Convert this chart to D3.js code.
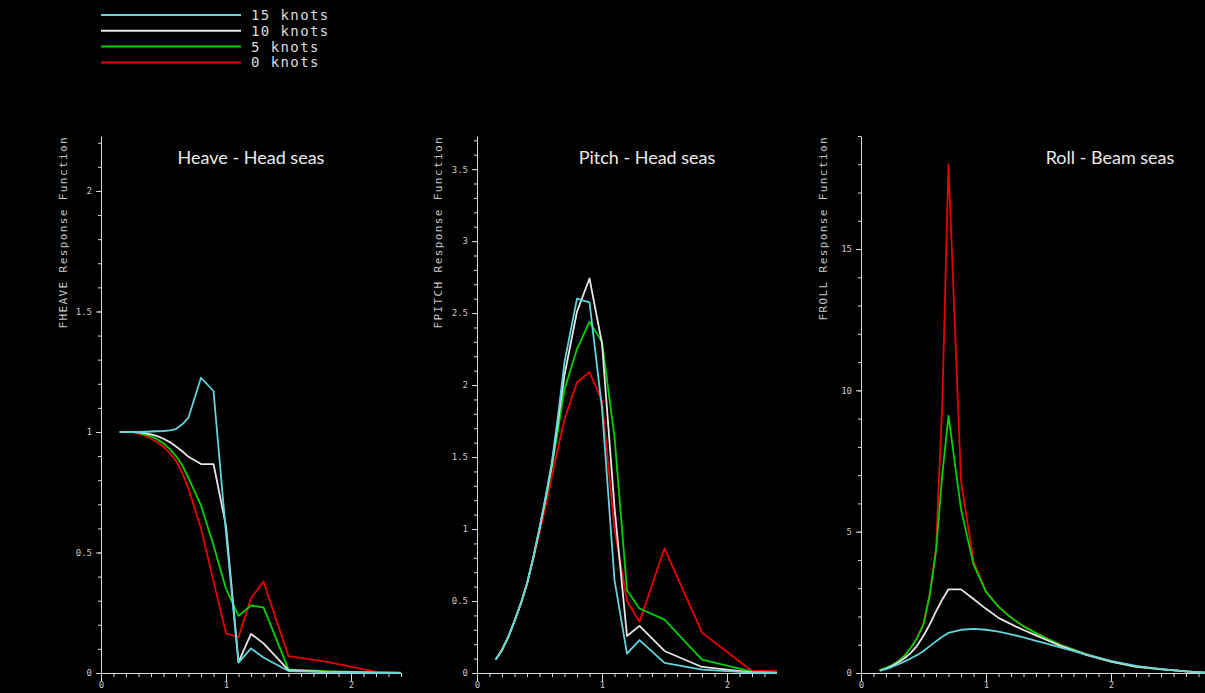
<!DOCTYPE html>
<html lang="en">
<head>
<meta charset="UTF-8">
<title>Response functions</title>
<script src="https://d3js.org/d3.v7.min.js"></script>
<style>
  html, body { margin: 0; padding: 0; background: #000; overflow: hidden; }
  svg { display: block; }
  .tick text { font-family: "DejaVu Sans Mono", monospace; font-size: 9px; fill: #c8c8c8; }
  .axis path, .axis line { stroke: #d8d8d8; }
</style>
</head>
<body>
<div id="chart"></div>
<script>
// series names (legend order, top to bottom)
const speeds = ["15 knots", "10 knots", "5 knots", "0 knots"];
const colors = ["#62d4da", "#e6e6e6", "#00d000", "#e80000"];

// wave frequency points
const freqHP = [0.15,0.2,0.25,0.3,0.35,0.4,0.45,0.5,0.55,0.6,0.65,0.7,0.8,0.9,1.0,1.1,1.2,1.3,1.5,1.8,2.2,2.4];
const freqRoll = [0.15,0.2,0.25,0.3,0.35,0.4,0.45,0.5,0.55,0.6,0.65,0.7,0.8,0.9,1.0,1.1,1.2,1.3,1.4,1.5,1.6,1.8,2.0,2.2,2.4,2.6,2.8];

// Heave - head seas
const heave15 = [1.0,1.0,1.0,1.0,1.001,1.002,1.003,1.004,1.007,1.012,1.032,1.06,1.225,1.17,0.58,0.043,0.102,0.064,0.008,0.004,0.0,0.0];
const heave10 = [1.0,1.0,1.0,0.998,0.995,0.99,0.983,0.972,0.958,0.94,0.92,0.897,0.867,0.867,0.61,0.045,0.162,0.123,0.012,0.005,0.001,0.0];
const heave5  = [1.0,1.0,0.999,0.996,0.99,0.982,0.97,0.952,0.93,0.9,0.862,0.81,0.695,0.53,0.35,0.237,0.28,0.272,0.015,0.008,0.002,0.0];
const heave0  = [1.0,1.0,0.998,0.993,0.985,0.972,0.957,0.938,0.913,0.88,0.83,0.765,0.60,0.38,0.165,0.148,0.31,0.38,0.07,0.047,0.005,0.002];

// Pitch - head seas
const pitch15 = [0.094,0.16,0.25,0.36,0.48,0.62,0.8,1.01,1.23,1.47,1.8,2.16,2.6,2.575,1.84,0.645,0.135,0.228,0.07,0.024,0.002,0.0];
const pitch10 = [0.094,0.16,0.25,0.36,0.48,0.62,0.8,1.0,1.22,1.45,1.76,2.07,2.51,2.74,2.29,1.15,0.257,0.327,0.153,0.042,0.005,0.0];
const pitch5  = [0.094,0.16,0.25,0.36,0.48,0.62,0.8,1.0,1.21,1.44,1.7,1.97,2.25,2.44,2.3,1.64,0.575,0.448,0.371,0.093,0.01,0.005];
const pitch0  = [0.094,0.16,0.25,0.36,0.48,0.62,0.79,0.97,1.16,1.37,1.57,1.76,2.02,2.09,1.89,1.0,0.5,0.355,0.866,0.28,0.014,0.014];

// Roll - beam seas
const roll15 = [0.08,0.14,0.22,0.31,0.41,0.52,0.64,0.78,0.95,1.12,1.28,1.42,1.53,1.56,1.53,1.46,1.37,1.26,1.14,1.02,0.9,0.66,0.43,0.25,0.14,0.06,0.0];
const roll10 = [0.08,0.15,0.25,0.38,0.53,0.72,0.97,1.32,1.72,2.18,2.6,2.96,2.96,2.62,2.27,1.95,1.73,1.52,1.33,1.14,0.95,0.64,0.4,0.23,0.14,0.06,0.0];
const roll5  = [0.1,0.18,0.28,0.42,0.62,0.9,1.25,1.72,2.75,4.3,7.0,9.1,5.8,3.84,2.87,2.34,1.96,1.65,1.41,1.19,0.99,0.67,0.4,0.22,0.13,0.06,0.0];
const roll0  = [0.1,0.18,0.28,0.42,0.62,0.9,1.25,1.75,2.8,4.4,9.5,18.0,6.8,3.95,2.9,2.36,1.97,1.66,1.42,1.2,1.0,0.68,0.4,0.22,0.13,0.06,0.0];

const panels = [
  { title: "Heave - Head seas", ylabel: "FHEAVE Response Function", freq: freqHP,
    series: [heave15, heave10, heave5, heave0],
    left: 101, xMax: 2.4, yMax: 2.228, yMajor: [0, 0.5, 1, 1.5, 2], yMinor: 0.1,
    titleX: 251, ylabelX: 63 },
  { title: "Pitch - Head seas", ylabel: "FPITCH Response Function", freq: freqHP,
    series: [pitch15, pitch10, pitch5, pitch0],
    left: 477, xMax: 2.37, yMax: 3.73, yMajor: [0, 0.5, 1, 1.5, 2, 2.5, 3, 3.5], yMinor: 0.1,
    titleX: 647, ylabelX: 438 },
  { title: "Roll - Beam seas", ylabel: "FROLL Response Function", freq: freqRoll,
    series: [roll15, roll10, roll5, roll0],
    left: 861, xMax: 2.8, yMax: 19.0, yMajor: [0, 5, 10, 15], yMinor: 1,
    titleX: 1110, ylabelX: 823 }
];

const W = 1205, H = 693;
const plotTop = 136, plotBottom = 673, pxPerUnit = 125;

const svg = d3.select("#chart").append("svg")
  .attr("width", W)
  .attr("height", H);

svg.append("rect").attr("width", W).attr("height", H).attr("fill", "#000");

function steps(max, step) {
  const out = [];
  for (let i = 0; i * step <= max + 1e-9; i++) out.push(+(i * step).toFixed(4));
  return out;
}

panels.forEach(p => {
  const x = d3.scaleLinear().domain([0, p.xMax]).range([p.left, p.left + p.xMax * pxPerUnit]);
  const y = d3.scaleLinear().domain([0, p.yMax]).range([plotBottom, plotTop]);

  // minor ticks
  svg.append("g").attr("class", "axis")
    .attr("transform", `translate(${p.left},0)`)
    .call(d3.axisLeft(y).tickValues(steps(p.yMax, p.yMinor)).tickSize(3).tickFormat("").tickSizeOuter(0))
    .select(".domain").remove();
  svg.append("g").attr("class", "axis")
    .attr("transform", `translate(0,${plotBottom})`)
    .call(d3.axisBottom(x).tickValues(steps(p.xMax, 0.1)).tickSize(4).tickFormat("").tickSizeOuter(0))
    .select(".domain").remove();

  // major ticks + axis lines
  svg.append("g").attr("class", "axis")
    .attr("transform", `translate(${p.left},0)`)
    .call(d3.axisLeft(y).tickValues(p.yMajor).tickSize(5).tickSizeOuter(0).tickPadding(4).tickFormat(d3.format("")));
  svg.append("g").attr("class", "axis")
    .attr("transform", `translate(0,${plotBottom})`)
    .call(d3.axisBottom(x).tickValues([0, 1, 2]).tickSize(8).tickSizeOuter(0).tickPadding(1).tickFormat(d3.format("")));

  // y axis title
  svg.append("text")
    .attr("transform", `translate(${p.ylabelX},${plotTop}) rotate(-90)`)
    .attr("text-anchor", "end")
    .attr("dy", "0.35em")
    .style("font-family", "'DejaVu Sans Mono', monospace")
    .style("font-size", "11px")
    .style("letter-spacing", "1.4px")
    .style("fill", "#c8c8c8")
    .text(p.ylabel);

  // panel title
  svg.append("text")
    .attr("x", p.titleX)
    .attr("y", 158)
    .attr("dy", "0.35em")
    .attr("text-anchor", "middle")
    .style("font-family", "Lato, 'Open Sans', sans-serif")
    .style("font-size", "18px")
    .style("fill", "#ececec")
    .text(p.title);

  const line = d3.line()
    .x((d, i) => x(p.freq[i]))
    .y(d => y(d));

  // draw 0 knots first so 15 knots ends up on top
  for (let k = p.series.length - 1; k >= 0; k--) {
    svg.append("path")
      .datum(p.series[k])
      .attr("fill", "none")
      .attr("stroke", colors[k])
      .attr("stroke-width", 1.8)
      .attr("stroke-linejoin", "round")
      .attr("d", line);
  }
});

// legend
const legend = svg.append("g");
speeds.forEach((s, i) => {
  const ly = 15 + i * 15.8;
  legend.append("line")
    .attr("x1", 101).attr("x2", 241)
    .attr("y1", ly).attr("y2", ly)
    .attr("stroke", colors[i])
    .attr("stroke-width", 2);
  legend.append("text")
    .attr("x", 251)
    .attr("y", ly)
    .attr("dy", "0.35em")
    .style("font-family", "'DejaVu Sans Mono', monospace")
    .style("font-size", "14px")
    .style("letter-spacing", "1.4px")
    .style("fill", "#dcdcdc")
    .text(s);
});
</script>
</body>
</html>
